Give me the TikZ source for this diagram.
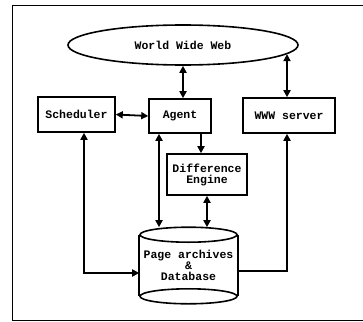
\documentclass[tikz,border=0pt]{standalone}
\usepackage{fontspec}
\setmonofont{Liberation Mono}
\usetikzlibrary{shapes.geometric,arrows.meta}

\begin{document}
\begin{tikzpicture}[x=1pt, y=-1pt,
    box/.style={rectangle, draw=black, line width=1.6pt, inner sep=0pt, align=center,
        font=\fontsize{11.5}{11}\selectfont\ttfamily\bfseries},
    link/.style={line width=1.8pt, -{Triangle[length=7pt,width=7pt]}},
    dlink/.style={line width=1.8pt, {Triangle[length=7pt,width=7pt]}-{Triangle[length=7pt,width=7pt]}}]
    \useasboundingbox (0,0) rectangle (363,321);
    \draw[line width=0.8pt] (363,5) -- (12,5) -- (12,320) -- (363,320);

    \node[box, ellipse, minimum width=230pt, minimum height=40pt] (web) at (183,45) {World Wide Web};
    \node[box, minimum width=77pt, minimum height=35pt] (sched) at (76.5,114.5) {Scheduler};
    \node[box, minimum width=62pt, minimum height=34pt] (agent) at (180,116) {Agent};
    \node[box, minimum width=92pt, minimum height=35pt] (www) at (289,115.5) {WWW server};
    \node[box, minimum width=80pt, minimum height=41pt] (diff) at (207,174.5) {Difference\\Engine};
    \node[box, draw=none, minimum width=97pt, minimum height=75pt] (db) at (188.5,265.5) {Page archives\\\&\\Database};

    % database drum
    \draw[line width=1.6pt] ([yshift=-7.5pt]db.north) ellipse [x radius=48.5pt, y radius=7.5pt];
    \draw[line width=1.6pt] ([yshift=7.5pt]db.south) ellipse [x radius=48.5pt, y radius=7.5pt];
    \draw[line width=1.6pt] ([yshift=-7.5pt]db.north west) -- ([yshift=7.5pt]db.south west);
    \draw[line width=1.6pt] ([yshift=-7.5pt]db.north east) -- ([yshift=7.5pt]db.south east);

    \draw[dlink] (web.south) -- (web.south |- agent.north);
    \draw[dlink] ([xshift=-2pt]www.north) -- ([xshift=-2pt]www.north |- web.-5);
    \draw[dlink] (sched.east) -- (agent.west);
    \draw[link] ([xshift=21pt]agent.south) -- ([xshift=21pt]agent.south |- diff.north);
    \draw[dlink] (diff.south) -- (diff.south |- db.north);
    \draw[dlink] ([xshift=-21pt]agent.south) -- ([xshift=-21pt]agent.south |- db.north);
    \draw[dlink] ([xshift=7.5pt]sched.south) |- ([yshift=-7.5pt]db.west);
    \draw[link] ([yshift=-5.5pt]db.east) -| ([xshift=-2pt]www.south);
\end{tikzpicture}
\end{document}
